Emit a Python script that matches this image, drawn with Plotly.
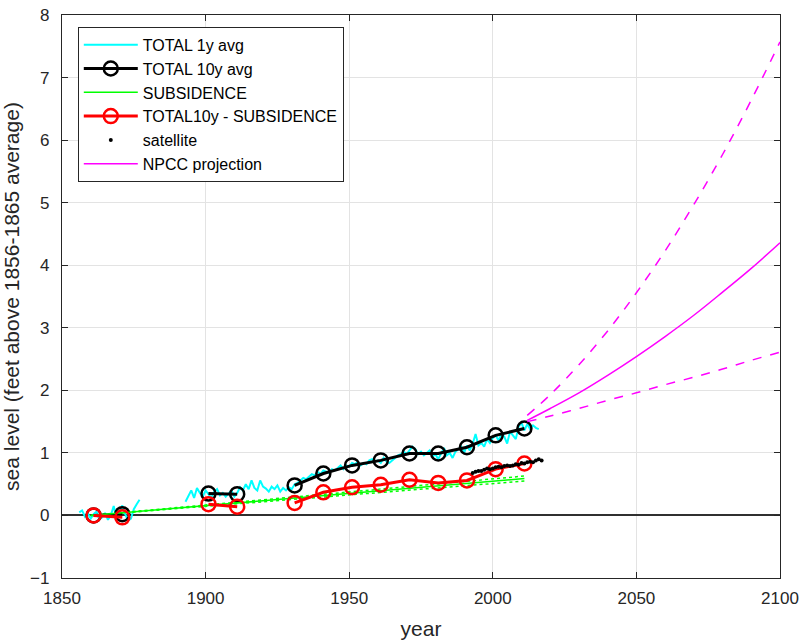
import plotly.graph_objects as go

# ---------------- data ----------------
# TOTAL 1y avg (annual values, two segments)
y1_years_a = list(range(1856, 1878))
y1_vals_a = [0.05, 0.08, -0.02, 0.03, -0.05, 0.02, 0.06, -0.06, -0.03, 0.04, -0.07,
             0.00, 0.15, -0.04, 0.05, 0.16, 0.02, -0.08, -0.05, 0.10, 0.18, 0.25]
y1_years_b = list(range(1893, 2017))
y1_vals_b = [0.22, 0.30, 0.40, 0.28, 0.44, 0.36, 0.30, 0.40, 0.33, 0.28,
             0.38, 0.42, 0.32, 0.36, 0.30, 0.35, 0.40, 0.30, 0.36, 0.45,
             0.40, 0.50, 0.42, 0.56, 0.44, 0.40, 0.56, 0.46, 0.43, 0.38,
             0.46, 0.42, 0.48, 0.38, 0.44, 0.40, 0.45, 0.42, 0.50, 0.52,
             0.56, 0.60, 0.58, 0.62, 0.66, 0.64, 0.70, 0.66, 0.72, 0.70,
             0.68, 0.74, 0.72, 0.76, 0.80, 0.74, 0.80, 0.78, 0.84, 0.82,
             0.86, 0.80, 0.84, 0.82, 0.88, 0.90, 0.86, 0.88, 0.84, 0.92,
             0.86, 0.84, 0.88, 0.92, 0.96, 0.98, 1.02, 0.98, 1.04, 1.10,
             1.06, 0.98, 1.02, 0.96, 1.00, 1.04, 0.94, 0.98, 0.90, 1.00,
             1.08, 0.96, 1.00, 0.92, 1.02, 1.06, 1.10, 1.00, 1.12, 1.04,
             1.15, 1.30, 1.12, 1.16, 1.10, 1.22, 1.16, 1.24, 1.28, 1.20,
             1.30, 1.26, 1.15, 1.34, 1.28, 1.22, 1.42, 1.48, 1.36, 1.46,
             1.38, 1.44, 1.40, 1.38]

# TOTAL 10y avg and TOTAL10y - SUBSIDENCE
dec_years = [1861, 1871, 1901, 1911, 1931, 1941, 1951, 1961, 1971, 1981, 1991, 2001, 2011]
total10 = [0.00, 0.02, 0.35, 0.34, 0.48, 0.67, 0.80, 0.88, 0.99, 0.99, 1.09, 1.28, 1.39]
total10_minus_sub = [0.00, -0.03, 0.18, 0.14, 0.20, 0.37, 0.45, 0.49, 0.57, 0.52, 0.56, 0.74, 0.83]

# SUBSIDENCE (central estimate with upper/lower bounds)
sub_years = [1860, 2011]
sub_mid = [0.00, 0.59]
sub_hi = [0.00, 0.63]
sub_lo = [0.00, 0.55]

# satellite
sat_years = list(range(1993, 2018))
sat_vals = [0.68, 0.70, 0.71, 0.71, 0.73, 0.75, 0.74, 0.75, 0.77, 0.78, 0.77, 0.79,
            0.80, 0.79, 0.80, 0.82, 0.81, 0.84, 0.83, 0.85, 0.86, 0.85, 0.88, 0.90, 0.88]

# NPCC projection
npcc_years = [2012, 2020, 2030, 2040, 2050, 2060, 2070, 2080, 2090, 2100]
npcc_mid = [1.52, 1.71, 1.96, 2.24, 2.54, 2.86, 3.20, 3.57, 3.95, 4.36]
npcc_hi = [1.60, 1.93, 2.41, 2.95, 3.56, 4.23, 4.97, 5.77, 6.64, 7.57]
npcc_lo = [1.50, 1.59, 1.71, 1.84, 1.96, 2.09, 2.21, 2.34, 2.48, 2.61]

x_ticks = [1850, 1900, 1950, 2000, 2050, 2100]
y_ticks = [-1, 0, 1, 2, 3, 4, 5, 6, 7, 8]


def with_gaps(xs, ys, maxgap):
    ox, oy = [], []
    for i, (x, y) in enumerate(zip(xs, ys)):
        if i > 0 and x - xs[i - 1] > maxgap:
            ox.append(None)
            oy.append(None)
        ox.append(x)
        oy.append(y)
    return ox, oy


FONT = "Liberation Sans, Arial, Helvetica, sans-serif"
AX = "#262626"

fig = go.Figure()

# TOTAL 1y avg
cx = y1_years_a + [None] + y1_years_b
cy = y1_vals_a + [None] + y1_vals_b
fig.add_trace(go.Scatter(x=cx, y=cy, mode="lines", name="TOTAL 1y avg",
                         line=dict(color="#00FFFF", width=2), connectgaps=False))

# SUBSIDENCE bounds
fig.add_trace(go.Scatter(x=sub_years, y=sub_hi, mode="lines", showlegend=False,
                         line=dict(color="#00FF00", width=1.5, dash="dot")))
fig.add_trace(go.Scatter(x=sub_years, y=sub_lo, mode="lines", showlegend=False,
                         line=dict(color="#00FF00", width=1.5, dash="dot")))

# TOTAL 10y avg
bx, by = with_gaps(dec_years, total10, 10)
fig.add_trace(go.Scatter(x=bx, y=by, mode="lines+markers", name="TOTAL 10y avg",
                         line=dict(color="black", width=3),
                         marker=dict(symbol="circle-open", size=14, color="black",
                                     line=dict(width=2.5, color="black")),
                         connectgaps=False))

fig.add_trace(go.Scatter(x=sub_years, y=sub_mid, mode="lines", name="SUBSIDENCE",
                         line=dict(color="#00FF00", width=1.5)))

# TOTAL10y - SUBSIDENCE
rx, ry = with_gaps(dec_years, total10_minus_sub, 10)
fig.add_trace(go.Scatter(x=rx, y=ry, mode="lines+markers", name="TOTAL10y - SUBSIDENCE",
                         line=dict(color="#FF0000", width=3),
                         marker=dict(symbol="circle-open", size=14, color="#FF0000",
                                     line=dict(width=2.5, color="#FF0000")),
                         connectgaps=False))

# satellite
fig.add_trace(go.Scatter(x=sat_years, y=sat_vals, mode="markers", name="satellite",
                         marker=dict(color="black", size=4)))

# NPCC projection
fig.add_trace(go.Scatter(x=npcc_years, y=npcc_mid, mode="lines", name="NPCC projection",
                         line=dict(color="#FF00FF", width=1.5, shape="spline")))
fig.add_trace(go.Scatter(x=npcc_years, y=npcc_hi, mode="lines", showlegend=False,
                         line=dict(color="#FF00FF", width=1.5, dash="dash", shape="spline")))
fig.add_trace(go.Scatter(x=npcc_years, y=npcc_lo, mode="lines", showlegend=False,
                         line=dict(color="#FF00FF", width=1.5, dash="dash", shape="spline")))

fig.update_layout(
    width=801, height=640,
    margin=dict(l=62, r=21, t=15, b=62, autoexpand=False),
    paper_bgcolor="white", plot_bgcolor="white",
    font=dict(family=FONT, color=AX, size=16),
    showlegend=True,
    legend=dict(x=0.022, y=0.979, xanchor="left", yanchor="top",
                bgcolor="white", bordercolor=AX, borderwidth=1,
                font=dict(family=FONT, size=16, color="black"),
                itemwidth=54, tracegroupgap=0),
    xaxis=dict(range=[1850, 2100], tickvals=x_ticks, ticks="inside", ticklen=6,
               tickcolor=AX, showline=True, linecolor=AX, linewidth=1.2,
               mirror="allticks", showgrid=True, gridcolor="#E3E3E3", gridwidth=1,
               zeroline=False, tickfont=dict(size=17), automargin=False,
               ticklabelstandoff=4,
               title=dict(text="year", font=dict(size=21), standoff=14)),
    yaxis=dict(range=[-1, 8], tickvals=y_ticks, ticks="inside", ticklen=6,
               tickcolor=AX, showline=True, linecolor=AX, linewidth=1.2,
               mirror="allticks", showgrid=True, gridcolor="#E3E3E3", gridwidth=1,
               zeroline=True, zerolinecolor="#303030", zerolinewidth=1.5,
               tickfont=dict(size=17), automargin=False, ticklabelstandoff=8,
               title=dict(text="sea level (feet above 1856-1865 average)",
                          font=dict(size=21), standoff=6)),
)

fig.write_html("out.html",
               config={"displayModeBar": False},
               post_script="document.body.style.margin='0';"
                           "document.body.style.padding='0';")
